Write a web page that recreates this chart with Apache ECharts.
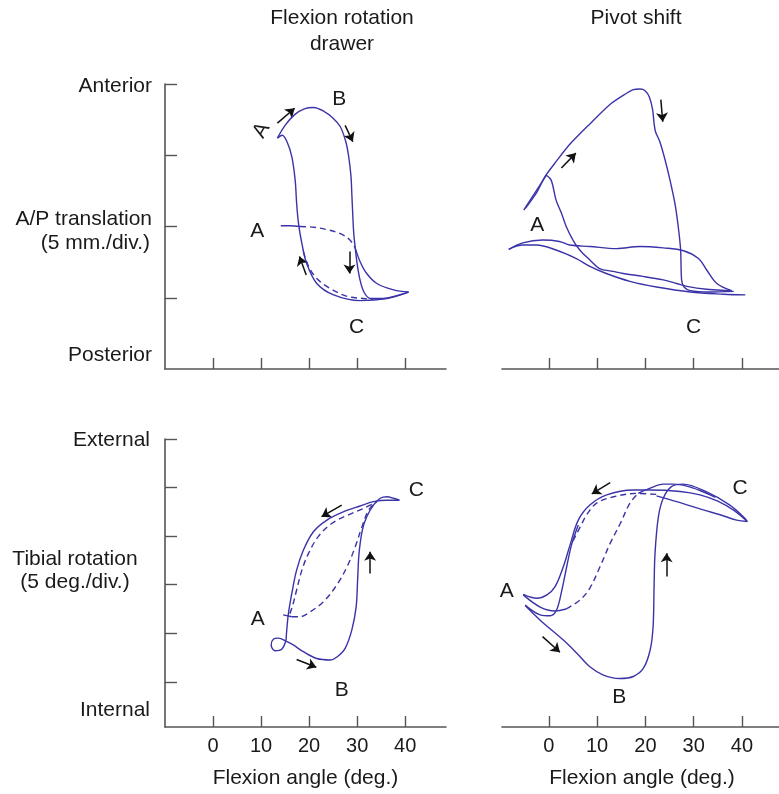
<!DOCTYPE html>
<html>
<head>
<meta charset="utf-8">
<script src="https://cdn.jsdelivr.net/npm/echarts@6/dist/echarts.min.js"></script>
<style>
html,body{margin:0;padding:0;background:#fff;}
#chart{width:779px;height:794px;}
</style>
</head>
<body>
<div id="chart"></div>
<script>
// tick values
var xTicks = [0, 10, 20, 30, 40];
var apTicks = [1, 2, 3, 4];
var rotTicks = [1, 2, 3, 4, 5, 6];

// ---- flexion rotation drawer, A/P translation (x = flexion deg, y = divisions)
var tlUpper = [[13.4,3.24],[15.0,3.42],[17.0,3.57],[19.0,3.65],[20.9,3.67],[23.0,3.62],[25.0,3.52],[26.5,3.40],[27.6,3.20],[28.2,3.00],[28.7,2.72],[28.9,2.45],[29.1,2.15],[29.3,1.90],[29.6,1.70],[30.0,1.48],[30.6,1.25],[31.5,1.07],[32.8,0.99],[35.5,0.99],[38.2,1.03],[40.7,1.08]];
var tlReturn = [[40.7,1.08],[36.2,0.99],[30.6,0.96],[25.1,1.04],[21.6,1.20],[19.5,1.48],[18.5,1.76],[17.8,2.04],[17.4,2.33],[17.1,2.65],[16.4,2.98],[15.4,3.19],[14.4,3.28],[13.4,3.24]];
var tlMidSolid = [[14.1,2.01],[16.0,2.01],[18.1,2.00]];
var tlMidDash = [[18.1,2.00],[21.0,1.99],[23.5,1.96],[26.5,1.90],[28.2,1.83],[29.1,1.76],[29.6,1.70]];
var tlMidBulge = [[29.6,1.70],[30.6,1.51],[32.0,1.34],[34.1,1.20],[37.6,1.11],[40.7,1.08]];
var tlLowDash = [[18.8,1.65],[19.9,1.44],[21.6,1.27],[24.4,1.13],[27.9,1.02],[31.3,0.99],[33.4,0.98]];
var tlArrows = [[[13.4,3.45],[17.0,3.66]],[[27.5,3.42],[29.1,3.19]],[[28.4,1.65],[28.4,1.34]],[[19.4,1.32],[18.0,1.58]]];
var tlLetters = [['A',10.1,3.35],['B',26.3,3.78],['A',9.2,1.94],['C',29.9,0.59]];

// ---- pivot shift, A/P translation
var trSpikeUp = [[-5.2,2.23],[-0.5,2.72]];
var trFall = [[-0.5,2.72],[0.5,2.65],[1.5,2.37],[2.6,2.19],[3.6,2.00],[5.0,1.81],[6.4,1.67],[8.5,1.53],[10.5,1.41],[13.3,1.37],[15.4,1.34],[19.5,1.30],[23.7,1.25],[26.5,1.20],[28.6,1.16],[32.7,1.12],[37.6,1.10]];
var trUpper = [[-4.9,2.25],[-2.5,2.48],[-0.8,2.70],[1.5,2.91],[4.3,3.15],[8.5,3.44],[12.6,3.71],[15.4,3.84],[17.5,3.92],[18.9,3.93],[19.9,3.91],[20.8,3.82],[21.5,3.64],[21.8,3.45],[22.1,3.33],[23.0,3.19],[24.1,2.93],[25.1,2.65],[26.1,2.33],[26.8,2.00],[27.3,1.67],[27.5,1.25],[28.0,1.15],[29.3,1.10],[33.4,1.08],[38.3,1.09]];
var trFlatHigh = [[-8.3,1.68],[-5.4,1.77],[-1.3,1.81],[2.2,1.79],[4.3,1.74],[8.5,1.72],[14.0,1.69],[18.9,1.72],[23.7,1.70],[27.9,1.66],[31.0,1.55],[32.7,1.39],[34.8,1.20],[37.9,1.10]];
var trFlatLow = [[-8.3,1.68],[-5.4,1.74],[-2.6,1.74],[1.5,1.67],[5.7,1.55],[8.5,1.44],[11.9,1.34],[16.8,1.23],[22.3,1.15],[29.3,1.08],[36.2,1.05],[40.7,1.04]];
var trArrows = [[[2.6,2.82],[5.6,3.03]],[[23.2,3.78],[23.6,3.47]]];
var trLetters = [['B',20.6,4.17],['A',-2.4,2.02],['C',30.0,0.59]];

// ---- flexion rotation drawer, tibial rotation
var blLoop = [[15.2,1.86],[14.3,1.67],[12.9,1.64],[12.1,1.76],[12.6,1.88],[13.6,1.90],[15.2,1.84],[16.7,1.76],[18.8,1.62],[21.6,1.48],[24.4,1.45],[25.8,1.51],[27.5,1.69],[28.9,2.07],[29.8,2.55],[30.1,3.10],[30.4,3.65],[31.1,4.13],[32.0,4.40],[33.4,4.64],[34.8,4.78],[36.2,4.81],[37.6,4.78],[38.8,4.74]];
var blTop = [[38.8,4.74],[36.2,4.74],[33.4,4.71],[30.6,4.62],[27.1,4.50],[23.7,4.33],[20.9,4.09],[18.8,3.71],[17.4,3.30],[16.4,2.82],[15.7,2.41],[15.35,2.07],[15.2,1.86]];
var blStart = [[14.6,2.38],[16.4,2.34]];
var blDashLow = [[16.4,2.34],[18.1,2.34],[19.9,2.42],[23.0,2.65],[25.8,3.00],[27.9,3.37],[29.6,3.78],[31.0,4.19],[32.4,4.54],[34.1,4.71]];
var blDashHigh = [[16.0,2.40],[16.6,2.58],[17.4,2.89],[18.5,3.30],[19.9,3.65],[21.9,3.99],[24.7,4.26],[28.2,4.44],[31.3,4.57],[34.1,4.71]];
var blArrows = [[[26.8,4.64],[22.6,4.40]],[[32.7,3.23],[32.7,3.68]],[[17.4,1.46],[21.5,1.30]]];
var blLetters = [['A',9.3,2.29],['B',26.8,0.83],['C',42.3,4.95]];

// ---- pivot shift, tibial rotation
var brLoop = [[-4.9,2.57],[-1.8,2.27],[3.0,1.86],[5.8,1.59],[8.5,1.31],[11.3,1.14],[14.7,1.07],[17.5,1.11],[19.6,1.28],[21.0,1.66],[21.6,2.14],[21.8,2.96],[22.0,3.65],[22.7,4.40],[23.7,4.78],[25.4,5.02],[27.8,5.07],[32.7,4.91],[37.5,4.64],[40.6,4.37],[41.1,4.30]];
var brReturn = [[41.1,4.30],[38.9,4.33],[35.5,4.44],[32.0,4.54],[26.5,4.71],[22.3,4.83]];
var brOuter = [[-5.3,2.80],[-2.5,2.72],[-0.4,2.79],[1.3,2.96],[3.0,3.37],[4.4,3.82],[6.1,4.33],[8.5,4.64],[12.0,4.85],[17.5,4.95],[21.0,4.95],[27.2,4.92],[31.3,4.85],[35.0,4.72],[38.5,4.52],[41.1,4.30]];
var brInner = [[-4.9,2.58],[-1.8,2.38],[0.25,2.36],[1.6,2.48],[2.7,2.89],[3.7,3.37],[4.7,3.82],[6.1,4.23]];
var brLead = [[-5.3,2.79],[-1.8,2.54],[1.3,2.46],[3.6,2.50]];
var brDashLow = [[3.6,2.50],[6.5,2.69],[8.5,2.93],[10.6,3.37],[12.7,3.85],[14.8,4.26],[16.8,4.68],[18.5,4.88]];
var brCrest = [[18.5,4.88],[21.0,4.99],[23.7,5.07],[25.8,5.07],[28.6,5.03],[31.3,4.94],[34.5,4.80]];
var brDashHigh = [[5.0,3.90],[6.5,4.19],[7.9,4.45],[9.9,4.68],[13.4,4.81],[18.2,4.88],[22.3,4.86]];
var brArrows = [[[12.7,5.10],[8.9,4.87]],[[24.4,3.17],[24.4,3.65]],[[-1.3,1.93],[2.3,1.61]]];
var brLetters = [['A',-8.7,2.86],['B',14.6,0.69],['C',39.6,4.98]];

var BLUE = '#3b34a8';
var INK = '#1a1a1a';
var AXIS = '#555';
var FONT = '"Liberation Sans", Arial, sans-serif';

function curve(data, g, dashed, sm) {
  return {
    type: 'line', xAxisIndex: g, yAxisIndex: g, data: data,
    smooth: sm == null ? 0.35 : sm, showSymbol: false, silent: true, clip: false,
    lineStyle: {color: BLUE, width: 1.4, type: dashed ? [6, 4] : 'solid'}
  };
}
function arrows(list, g) {
  return {
    type: 'lines', coordinateSystem: 'cartesian2d', xAxisIndex: g, yAxisIndex: g,
    symbol: ['none', 'arrow'], symbolSize: 9, silent: true,
    lineStyle: {color: '#111', width: 1.5, opacity: 1, curveness: 0},
    data: list.map(function (c) { return {coords: c}; })
  };
}
function letters(list, g, rot) {
  return {
    type: 'scatter', xAxisIndex: g, yAxisIndex: g, symbolSize: 1, silent: true,
    itemStyle: {color: 'rgba(0,0,0,0)'},
    label: {show: true, position: 'inside', formatter: '{b}', fontSize: 21, color: INK,
      fontFamily: FONT, textBorderWidth: 0, opacity: 1},
    data: list.map(function (l, i) {
      return {name: l[0], value: [l[1], l[2]], label: {rotate: (rot && rot[i]) || 0}};
    })
  };
}

function xAxis(g, min, max, labels) {
  return {
    type: 'value', gridIndex: g, min: min, max: max,
    axisLine: {show: true, onZero: false, lineStyle: {color: AXIS, width: 1.6}},
    axisTick: {show: true, inside: true, length: 11, customValues: xTicks, lineStyle: {color: AXIS, width: 1.4}},
    axisLabel: {show: labels, customValues: xTicks, fontSize: 20, color: INK, margin: 9, fontFamily: FONT},
    splitLine: {show: false},
    name: labels ? 'Flexion angle (deg.)' : '', nameLocation: 'middle', nameGap: 41,
    nameTextStyle: {fontSize: 21, color: INK, fontFamily: FONT}
  };
}
function yAxis(g, min, max, ticks, line) {
  return {
    type: 'value', gridIndex: g, min: min, max: max,
    axisLine: {show: line, onZero: false, lineStyle: {color: AXIS, width: 1.6}},
    axisTick: {show: line, inside: true, length: 12, customValues: ticks, lineStyle: {color: AXIS, width: 1.4}},
    axisLabel: {show: false}, splitLine: {show: false}
  };
}

function txt(x, y, s, align, size) {
  return {type: 'text', x: x, y: y, silent: true,
    style: {text: s, fill: INK, font: (size || 21) + 'px ' + FONT, align: align, verticalAlign: 'middle'}};
}

var chart = echarts.init(document.getElementById('chart'));
chart.setOption({
  animation: false,
  backgroundColor: '#fff',
  grid: [
    {left: 165, top: 84, width: 281, height: 285, outerBoundsMode: 'none'},
    {left: 502, top: 84, width: 280, height: 285, outerBoundsMode: 'none'},
    {left: 165, top: 439, width: 281, height: 288, outerBoundsMode: 'none'},
    {left: 502, top: 439, width: 280, height: 288, outerBoundsMode: 'none'}
  ],
  xAxis: [xAxis(0, -10, 48.5, false), xAxis(1, -9.7, 48.3, false), xAxis(2, -10, 48.5, true), xAxis(3, -9.7, 48.3, true)],
  yAxis: [yAxis(0, 0, 4, apTicks, true), yAxis(1, 0, 4, apTicks, false), yAxis(2, 0.07, 6, rotTicks, true), yAxis(3, 0.07, 6, rotTicks, false)],
  graphic: [
    txt(342, 18, 'Flexion rotation', 'center'),
    txt(342, 44, 'drawer', 'center'),
    txt(636, 18, 'Pivot shift', 'center'),
    txt(152, 86, 'Anterior', 'right'),
    txt(152, 219, 'A/P translation', 'right'),
    txt(150, 243, '(5 mm./div.)', 'right'),
    txt(152, 355, 'Posterior', 'right'),
    txt(150, 440, 'External', 'right'),
    txt(75, 559, 'Tibial rotation', 'center'),
    txt(75, 582, '(5 deg./div.)', 'center'),
    txt(150, 710, 'Internal', 'right')
  ],
  series: [
    curve(tlUpper, 0), curve(tlReturn, 0), curve(tlMidSolid, 0), curve(tlMidDash, 0, true),
    curve(tlMidBulge, 0), curve(tlLowDash, 0, true),
    arrows(tlArrows, 0), letters(tlLetters, 0, [60, 0, 0, 0]),

    curve(trSpikeUp, 1, false, 0), curve(trFall, 1), curve(trUpper, 1, false, 0.25),
    curve(trFlatHigh, 1), curve(trFlatLow, 1),
    arrows(trArrows, 1), letters(trLetters, 1),

    curve(blLoop, 2), curve(blTop, 2), curve(blStart, 2), curve(blDashLow, 2, true), curve(blDashHigh, 2, true),
    arrows(blArrows, 2), letters(blLetters, 2),

    curve(brLoop, 3), curve(brReturn, 3), curve(brOuter, 3), curve(brInner, 3), curve(brLead, 3),
    curve(brDashLow, 3, true), curve(brCrest, 3), curve(brDashHigh, 3, true),
    arrows(brArrows, 3), letters(brLetters, 3)
  ]
});
</script>
</body>
</html>
